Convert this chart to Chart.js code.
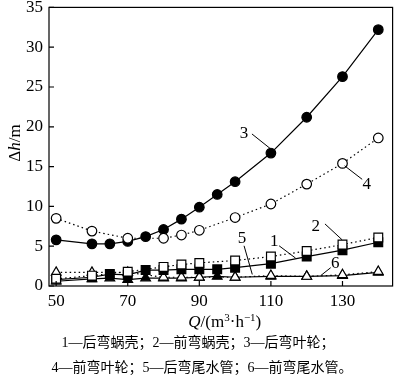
<!DOCTYPE html>
<html><head><meta charset="utf-8">
<script src="https://cdn.jsdelivr.net/npm/chart.js@4.4.0/dist/chart.umd.min.js"></script>
<style>html,body{margin:0;padding:0;background:#fff;}</style>
</head><body>
<canvas id="c" width="400" height="382" style="width:400px;height:382px;display:block"></canvas>
<script>
// ---- data ----
const xTicks = [50, 70, 90, 110, 130];
const yTicks = [0, 5, 10, 15, 20, 25, 30, 35];
const qBack  = [50, 60, 65, 70, 75, 80, 85, 90, 95, 100, 110, 120, 130, 140];
const qFront = [50, 60, 70, 80, 85, 90, 100, 110, 120, 130, 140];
// 1 后弯蜗壳 (filled square, solid)
const s1 = [0.8, 1.1, 1.5, 1.4, 2.0, 2.0, 2.1, 2.1, 2.1, 2.3, 2.8, 3.7, 4.5, 5.5];
// 2 前弯蜗壳 (open square, dotted)
const s2 = [0.9, 1.3, 1.8, 2.4, 2.7, 2.9, 3.2, 3.7, 4.4, 5.2, 6.1];
// 3 后弯叶轮 (filled circle, solid)
const s3 = [5.8, 5.3, 5.3, 5.6, 6.2, 7.1, 8.4, 9.9, 11.5, 13.1, 16.7, 21.2, 26.3, 32.2];
// 4 前弯叶轮 (open circle, dotted)
const s4 = [8.5, 6.9, 6.0, 6.0, 6.4, 7.0, 8.6, 10.3, 12.8, 15.4, 18.6];
// 5 后弯尾水管 (filled triangle, solid)
const s5 = [0.6, 0.9, 1.0, 0.8, 1.0, 1.0, 1.0, 1.1, 1.2, 1.1, 1.2, 1.2, 1.3, 1.7];
// 6 前弯尾水管 (open triangle, dotted)
const s6 = [1.7, 1.7, 1.7, 1.1, 1.1, 1.1, 1.1, 1.3, 1.2, 1.4, 1.8];
// curve labels with leader lines (data units)
const curveLabels = [
  {t: '3', x: 102.5, y: 19.1, a: [104.7, 19.1, 110, 17.2]},
  {t: '4', x: 136.8, y: 12.8, a: [130.6, 15.1, 135.5, 13.4]},
  {t: '2', x: 122.5, y: 7.45, a: [125.1, 7.8, 129.9, 5.8]},
  {t: '1', x: 110.9, y: 5.6, a: [112.3, 5.05, 116.9, 3.5]},
  {t: '5', x: 101.9, y: 6.0, a: [102.5, 5.05, 104.8, 1.45]},
  {t: '6', x: 128.0, y: 2.8, a: [126.7, 2.3, 123.9, 1.3]}
];
const caption1 = '1—后弯蜗壳；2—前弯蜗壳；3—后弯叶轮；';
const caption2 = '4—前弯叶轮；5—后弯尾水管；6—前弯尾水管。';

const SERIF = '"Liberation Serif", "Times New Roman", serif';
const CJK = '"Liberation Serif", "Noto Sans CJK SC", serif';
const pts = (xs, ys) => xs.map((x, i) => ({x, y: ys[i]}));
function ds(xs, ys, style, filled, dotted, radius, order) {
  return {
    data: pts(xs, ys), showLine: true,
    borderColor: '#000', borderWidth: 1.2,
    borderDash: dotted ? [1.5, 3] : [],
    pointStyle: style, pointRadius: radius, pointHoverRadius: radius,
    pointBackgroundColor: filled ? '#000' : '#fff',
    pointBorderColor: '#000', pointBorderWidth: 1.2,
    order: order
  };
}

const overlay = {
  id: 'overlay',
  afterDraw(chart) {
    const ctx = chart.ctx, a = chart.chartArea;
    const xs = chart.scales.x, ys = chart.scales.y;
    ctx.save();
    ctx.strokeStyle = '#000'; ctx.lineWidth = 1.2; ctx.setLineDash([]);
    ctx.strokeRect(a.left, a.top, a.right - a.left, a.bottom - a.top);
    ctx.beginPath();
    xTicks.forEach(v => { const p = xs.getPixelForValue(v); ctx.moveTo(p, a.bottom); ctx.lineTo(p, a.bottom - 5); });
    yTicks.forEach(v => { const p = ys.getPixelForValue(v); ctx.moveTo(a.left, p); ctx.lineTo(a.left + 5, p); });
    ctx.stroke();
    // curve labels
    ctx.lineWidth = 1; ctx.fillStyle = '#000';
    ctx.font = '17px ' + SERIF; ctx.textAlign = 'center'; ctx.textBaseline = 'middle';
    curveLabels.forEach(l => {
      ctx.beginPath();
      ctx.moveTo(xs.getPixelForValue(l.a[0]), ys.getPixelForValue(l.a[1]));
      ctx.lineTo(xs.getPixelForValue(l.a[2]), ys.getPixelForValue(l.a[3]));
      ctx.stroke();
      ctx.fillText(l.t, xs.getPixelForValue(l.x), ys.getPixelForValue(l.y));
    });
    // x title: Q/(m3·h-1)
    const parts = [
      {t: 'Q', f: 'italic 17px ' + SERIF, dy: 0},
      {t: '/(m', f: '17px ' + SERIF, dy: 0},
      {t: '3', f: '11px ' + SERIF, dy: -6},
      {t: '·h', f: '17px ' + SERIF, dy: 0},
      {t: '−1', f: '11px ' + SERIF, dy: -6},
      {t: ')', f: '17px ' + SERIF, dy: 0}
    ];
    let w = 0;
    parts.forEach(p => { ctx.font = p.f; p.w = ctx.measureText(p.t).width; w += p.w; });
    let cx = (a.left + a.right) / 2 + 4 - w / 2;
    ctx.textAlign = 'left'; ctx.textBaseline = 'alphabetic';
    parts.forEach(p => { ctx.font = p.f; ctx.fillText(p.t, cx, 327 + p.dy); cx += p.w; });
    // y title: Δh/m rotated
    ctx.save();
    ctx.translate(20, 143);
    ctx.rotate(-Math.PI / 2);
    const yp = [
      {t: 'Δ', f: '17px ' + SERIF}, {t: 'h', f: 'italic 17px ' + SERIF}, {t: '/m', f: '17px ' + SERIF}
    ];
    let yw = 0;
    yp.forEach(p => { ctx.font = p.f; p.w = ctx.measureText(p.t).width; yw += p.w; });
    let yx = -yw / 2;
    yp.forEach(p => { ctx.font = p.f; ctx.fillText(p.t, yx, 0); yx += p.w; });
    ctx.restore();
    // captions
    ctx.font = '14px ' + CJK; ctx.textAlign = 'center'; ctx.textBaseline = 'middle';
    ctx.fillText(caption1, 198, 343);
    ctx.fillText(caption2, 202, 368);
    ctx.restore();
  }
};

new Chart(document.getElementById('c'), {
  type: 'scatter',
  data: {
    datasets: [
      ds(qBack, s1, 'rect', true, false, 6.2, 4),
      ds(qFront, s2, 'rect', false, true, 6.2, 3),
      ds(qBack, s3, 'circle', true, false, 4.8, 2),
      ds(qFront, s4, 'circle', false, true, 4.8, 1),
      ds(qBack, s5, 'triangle', true, false, 5.6, 6),
      ds(qFront, s6, 'triangle', false, true, 5.6, 5)
    ]
  },
  options: {
    responsive: false, animation: false, devicePixelRatio: 1,
    layout: {padding: {top: 5, right: 6, left: 0, bottom: 0}},
    plugins: {legend: {display: false}, tooltip: {enabled: false}},
    scales: {
      x: {
        type: 'linear', min: 48, max: 144,
        afterBuildTicks: s => { s.ticks = xTicks.map(v => ({value: v})); },
        afterFit: s => { s.height = 96; s.paddingLeft = 0; s.paddingRight = 0; },
        grid: {display: false, drawTicks: false}, border: {display: false},
        ticks: {color: '#000', font: {family: SERIF, size: 17}, padding: 5, maxRotation: 0}
      },
      y: {
        type: 'linear', min: 0, max: 35,
        afterBuildTicks: s => { s.ticks = yTicks.map(v => ({value: v})); },
        afterFit: s => { s.width = 49; s.paddingTop = 0; s.paddingBottom = 0; },
        grid: {display: false, drawTicks: false}, border: {display: false},
        ticks: {color: '#000', font: {family: SERIF, size: 17}, padding: 6}
      }
    }
  },
  plugins: [overlay]
});
</script>
</body></html>
